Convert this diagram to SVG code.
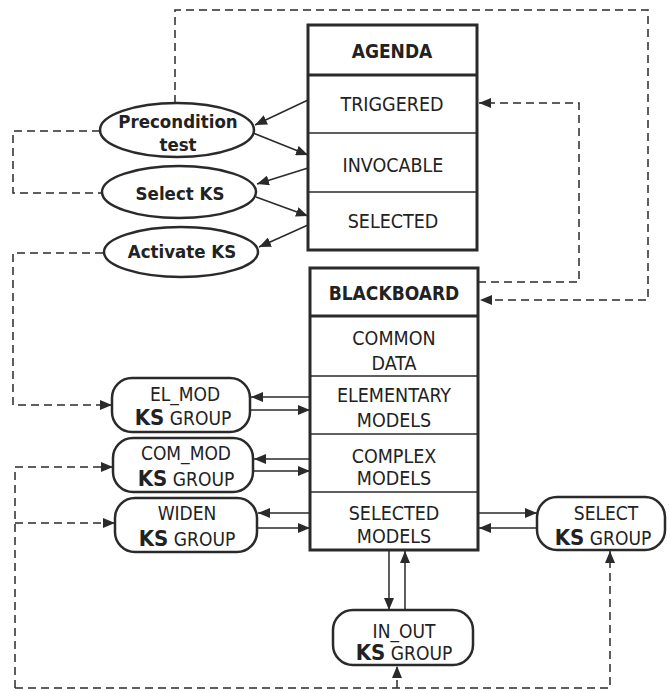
<svg xmlns="http://www.w3.org/2000/svg" width="670" height="691" viewBox="0 0 670 691">
<defs>
<marker id="ah" viewBox="0 0 12 10" refX="12" refY="5" markerWidth="12" markerHeight="10" markerUnits="userSpaceOnUse" orient="auto"><path d="M0,0 L12,5 L0,10 z" fill="#2a2a2a"/></marker>
</defs>
<style>
.box{fill:#fff;stroke:#2a2a2a;stroke-width:3}
.dv{stroke:#2a2a2a;stroke-width:1.5}
.dh{stroke:#2a2a2a;stroke-width:3}
.ell{fill:#fff;stroke:#2a2a2a;stroke-width:2.5}
.grp{fill:#fff;stroke:#2a2a2a;stroke-width:2.5}
.con{fill:none;stroke:#2a2a2a;stroke-width:1.5;marker-end:url(#ah)}
.dash{fill:none;stroke:#2a2a2a;stroke-width:1.5;stroke-dasharray:8 5}
.dasha{fill:none;stroke:#2a2a2a;stroke-width:1.5;stroke-dasharray:8 5;marker-end:url(#ah)}
.t{font-family:'DejaVu Sans Condensed','DejaVu Sans',sans-serif;font-stretch:condensed;fill:#222;text-anchor:middle;font-size:19.5px}
.b{font-weight:bold;font-size:19px}
.e{font-size:18.5px;font-weight:bold}
.ks{font-size:22px;font-weight:bold}
.g{font-size:19px}
</style>
<rect width="670" height="691" fill="#fff"/>
<g id="connectors">
<path class="con" d="M308,100 L255,125"/>
<path class="con" d="M253,133 L308,155"/>
<path class="con" d="M308,168 L257,184"/>
<path class="con" d="M256,197 L308,216"/>
<path class="con" d="M308,225 L259,247"/>
<path class="dasha" d="M175,103 V10 H648 V300 H480"/>
<path class="dasha" d="M478,282 H579 V103 H479"/>
<path class="dash" d="M100,131 H13 V193 H102"/>
<path class="dasha" d="M103,253 H13 V405 H112"/>
<path class="dasha" d="M15,688 V467 H113"/>
<path class="dasha" d="M15,523 H115"/>
<path class="dasha" d="M15,688 H610 V551"/>
<path class="dasha" d="M397,688 V666"/>
<path class="con" d="M310,397 H251"/>
<path class="con" d="M250,410 H310"/>
<path class="con" d="M310,459 H254"/>
<path class="con" d="M253,471 H310"/>
<path class="con" d="M310,513 H258"/>
<path class="con" d="M257,528 H310"/>
<path class="con" d="M478,513 H537"/>
<path class="con" d="M537,528 H479"/>
<path class="con" d="M389,551 V610"/>
<path class="con" d="M405,610 V551"/>
</g>
<g id="agenda">
<rect class="box" x="308" y="25" width="169" height="225"/>
<line class="dh" x1="308" y1="75" x2="477" y2="75"/>
<line class="dv" x1="308" y1="133" x2="477" y2="133"/>
<line class="dv" x1="308" y1="192" x2="477" y2="192"/>
<text class="t b" x="392" y="58">AGENDA</text>
<text class="t" x="392" y="111">TRIGGERED</text>
<text class="t" x="393" y="172">INVOCABLE</text>
<text class="t" x="393" y="228">SELECTED</text>
</g>
<g id="blackboard">
<rect class="box" x="310" y="268" width="168" height="282"/>
<line class="dh" x1="310" y1="316" x2="478" y2="316"/>
<line class="dv" x1="310" y1="376" x2="478" y2="376"/>
<line class="dv" x1="310" y1="434" x2="478" y2="434"/>
<line class="dv" x1="310" y1="492" x2="478" y2="492"/>
<text class="t b" x="394" y="300">BLACKBOARD</text>
<text class="t" x="394" y="345">COMMON</text>
<text class="t" x="394" y="370">DATA</text>
<text class="t" x="394" y="402">ELEMENTARY</text>
<text class="t" x="394" y="427">MODELS</text>
<text class="t" x="394" y="463">COMPLEX</text>
<text class="t" x="394" y="485">MODELS</text>
<text class="t" x="394" y="520">SELECTED</text>
<text class="t" x="394" y="543">MODELS</text>
</g>
<g id="precondition">
<ellipse class="ell" cx="177" cy="130" rx="77" ry="27"/>
<text class="t e" x="178" y="128">Precondition</text>
<text class="t e" x="178" y="151">test</text>
</g>
<g id="selectks">
<ellipse class="ell" cx="179" cy="192" rx="77" ry="26"/>
<text class="t e" x="180" y="200">Select KS</text>
</g>
<g id="activateks">
<ellipse class="ell" cx="181" cy="252" rx="77" ry="25"/>
<text class="t e" x="182" y="258">Activate KS</text>
</g>
<g id="elmod">
<rect class="grp" x="112" y="378" width="138" height="54" rx="20" ry="20"/>
<text class="t g" x="185" y="401">EL_MOD</text>
<text class="t" x="183" y="425"><tspan class="ks">KS</tspan><tspan class="g"> GROUP</tspan></text>
</g>
<g id="commod">
<rect class="grp" x="113" y="438" width="140" height="54" rx="20" ry="20"/>
<text class="t g" x="186" y="460">COM_MOD</text>
<text class="t" x="186" y="486"><tspan class="ks">KS</tspan><tspan class="g"> GROUP</tspan></text>
</g>
<g id="widen">
<rect class="grp" x="115" y="498" width="142" height="54" rx="20" ry="20"/>
<text class="t g" x="187" y="520">WIDEN</text>
<text class="t" x="187" y="546"><tspan class="ks">KS</tspan><tspan class="g"> GROUP</tspan></text>
</g>
<g id="select">
<rect class="grp" x="537" y="497" width="128" height="53" rx="20" ry="20"/>
<text class="t g" x="606" y="520">SELECT</text>
<text class="t" x="603" y="545"><tspan class="ks">KS</tspan><tspan class="g"> GROUP</tspan></text>
</g>
<g id="inout">
<rect class="grp" x="333" y="610" width="140" height="55" rx="20" ry="20"/>
<text class="t g" x="404" y="638">IN_OUT</text>
<text class="t" x="404" y="660"><tspan class="ks">KS</tspan><tspan class="g"> GROUP</tspan></text>
</g>
</svg>
